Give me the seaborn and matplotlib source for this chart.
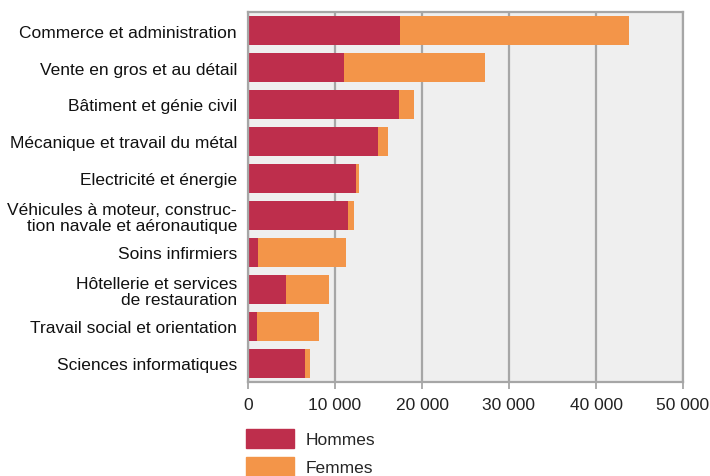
import matplotlib
matplotlib.use("Agg")
import matplotlib.pyplot as plt
import matplotlib.patches as mpatches
import seaborn as sns
import pandas as pd

categories = [
    "Commerce et administration",
    "Vente en gros et au détail",
    "Bâtiment et génie civil",
    "Mécanique et travail du métal",
    "Electricité et énergie",
    "Véhicules à moteur, construc-\ntion navale et aéronautique",
    "Soins infirmiers",
    "Hôtellerie et services\nde restauration",
    "Travail social et orientation",
    "Sciences informatiques",
]
hommes = [17500, 11000, 17400, 14900, 12400, 11500, 1100, 4400, 1000, 6600]
femmes = [26300, 16200, 1700, 1200, 400, 700, 10200, 4900, 7200, 500]
xticks = [0, 10000, 20000, 30000, 40000, 50000]
xticklabels = ["0", "10 000", "20 000", "30 000", "40 000", "50 000"]
series = ["Hommes", "Femmes"]

c_h = "#BE2E4C"
c_f = "#F39549"

df = pd.DataFrame({"cat": categories, "Hommes": hommes, "Femmes": femmes})
df["Total"] = df["Hommes"] + df["Femmes"]

sns.set_style("white")
plt.rcParams["font.family"] = ["Liberation Sans Narrow", "Liberation Sans", "DejaVu Sans"]

fig = plt.figure(figsize=(7.10, 4.77), dpi=100)
ax = fig.add_axes([248/710, 1-383/477, (683-248)/710, (383-13)/477])
ax.set_facecolor("#EFEFEF")

sns.barplot(data=df, y="cat", x="Total", color=c_f, orient="h", width=0.78,
            saturation=1, ax=ax, linewidth=0)
sns.barplot(data=df, y="cat", x="Hommes", color=c_h, orient="h", width=0.78,
            saturation=1, ax=ax, linewidth=0)

ax.set_xlim(0, 50000)
ax.set_ylim(len(categories) - 0.5, -0.5)
ax.set_xticks(xticks)
ax.set_xticklabels(xticklabels, fontsize=12.5, color="#222222")
ax.set_xlabel("")
ax.set_ylabel("")
for lab in ax.get_yticklabels():
    lab.set_fontsize(12.5)
    lab.set_multialignment("right")
    lab.set_color("#111111")
    lab.set_linespacing(1.12)

ax.set_axisbelow(True)
ax.grid(axis="x", color="#A6A6A6", linewidth=1.6)
ax.grid(axis="y", visible=False)
for s in ax.spines.values():
    s.set_visible(True)
    s.set_color("#A6A6A6")
    s.set_linewidth(1.6)
ax.tick_params(axis="x", length=5, width=1.3, color="#A6A6A6", pad=6, bottom=True)
ax.tick_params(axis="y", length=0, pad=8)

handles = [mpatches.Patch(color=c_h, label=series[0]),
           mpatches.Patch(color=c_f, label=series[1])]
fig.legend(handles=handles, loc="upper left", bbox_to_anchor=(246/710, 1-430/477),
           frameon=False, fontsize=12.5, handlelength=2.76, handleheight=1.27,
           handletextpad=0.7, labelspacing=0.55, borderaxespad=0, borderpad=0)

fig.savefig("out.png", dpi=100)
